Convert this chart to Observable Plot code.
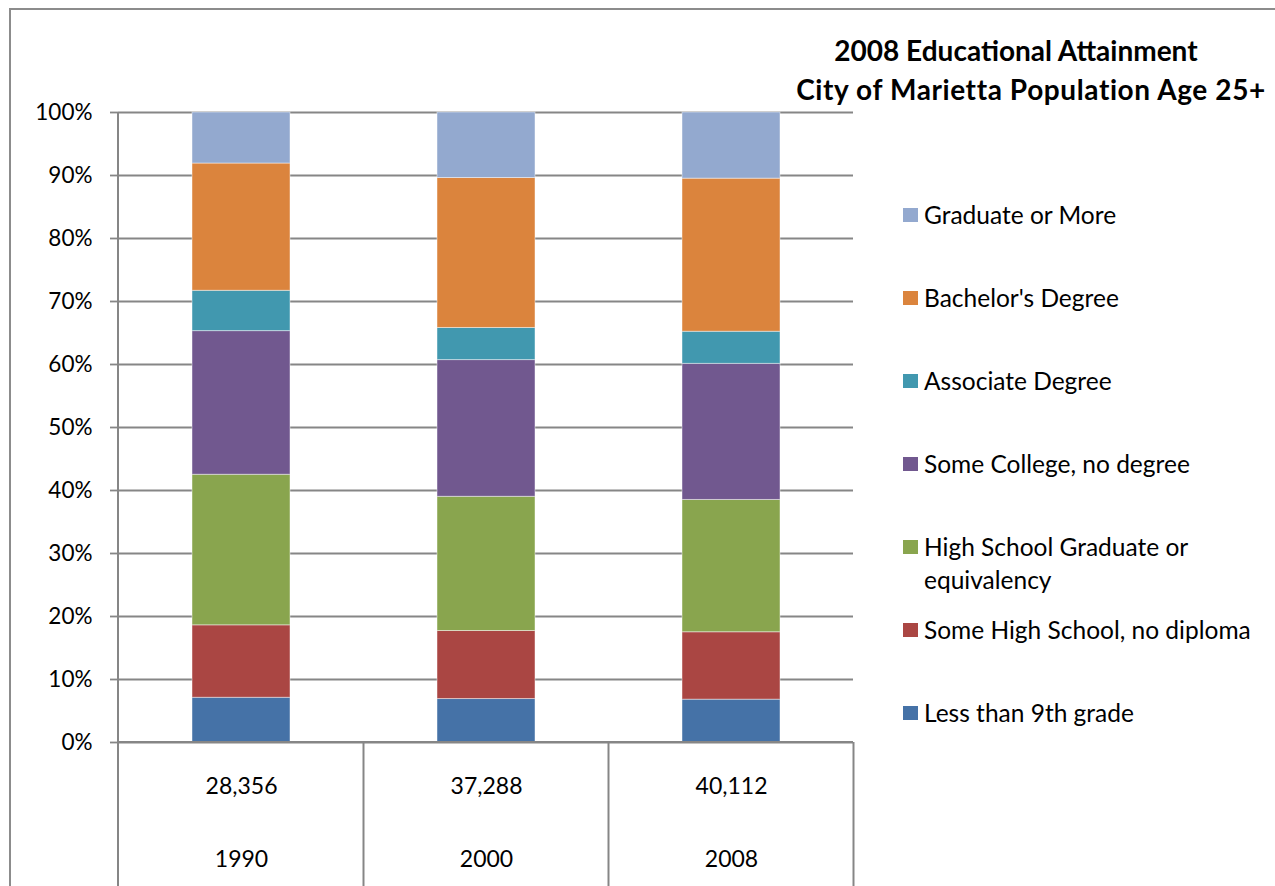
<!DOCTYPE html>
<html>
<head>
<meta charset="utf-8">
<script src="https://cdn.jsdelivr.net/npm/d3@7"></script>
<script src="https://cdn.jsdelivr.net/npm/@observablehq/plot@0.6"></script>
<style>
  html, body { margin: 0; padding: 0; background: #fff; }
  body { font-family: Lato, "Open Sans", "DejaVu Sans", sans-serif; color: #000; }
  #wrap { position: relative; width: 1275px; height: 886px; overflow: hidden; background: #fff; }
  #border { position: absolute; left: 9px; top: 8px; width: 1400px; height: 1000px;
            border-left: 2px solid #8c8c8c; border-top: 2px solid #8c8c8c; }
  #chart { position: absolute; left: 0; top: 0; }
  .title { position: absolute; width: 640px; text-align: center; font-weight: 700;
           font-size: 28px; line-height: 1.2; white-space: nowrap; }
  #legend { position: absolute; left: 903px; top: 198px; }
  .row { display: flex; align-items: flex-start; height: 83px; }
  .sw { width: 15px; height: 14px; margin-top: 10px; margin-right: 6px; flex: none; }
  .lab { font-size: 24.5px; line-height: 33px; width: 350px; }
</style>
</head>
<body>
<div id="wrap">
  <div id="border"></div>
  <div id="chart"></div>
  <div class="title" id="t1" style="left:696px; top:34px;"></div>
  <div class="title" id="t2" style="left:711px; top:73px; letter-spacing:0.6px;"></div>
  <div id="legend"></div>
</div>
<script>
// ---- data ----
const years = ["1990", "2000", "2008"];
const totals = ["28,356", "37,288", "40,112"];
const categories = [
  "Less than 9th grade",
  "Some High School, no diploma",
  "High School Graduate or equivalency",
  "Some College, no degree",
  "Associate Degree",
  "Bachelor's Degree",
  "Graduate or More"
];
const colors = ["#4572A7", "#AA4643", "#89A54E", "#71588F", "#4198AF", "#DB843D", "#93A9CF"];
const share1990 = [7.1, 11.5, 23.9, 22.8, 6.4, 20.2, 8.1];
const share2000 = [6.9, 10.8, 21.3, 21.7, 5.1, 23.8, 10.4];
const share2008 = [6.8, 10.7, 21.0, 21.6, 5.1, 24.3, 10.5];
const yTicks = [0, 10, 20, 30, 40, 50, 60, 70, 80, 90, 100];
const titleLines = ["2008 Educational Attainment", "City of Marietta Population Age 25+"];

// ---- table built from the arrays ----
const series = [share1990, share2000, share2008];
const rows = [];
years.forEach((yr, i) => categories.forEach((c, j) => rows.push({year: yr, category: c, value: series[i][j]})));

const gray = "#868686";

// lines of the bottom data table + axis line, derived from scales
function tableLines(index, scales, values, dims) {
  const x = scales.x, y = scales.y;
  const W = dims.width, ml = dims.marginLeft, mr = dims.marginRight;
  const bw = typeof x.bandwidth === "function" ? x.bandwidth() : 0;
  const step = typeof x.step === "function" ? x.step() : (W - ml - mr) / years.length;
  const y0 = y(0), yTop = y(100), H = dims.height;
  const g = d3.create("svg:g").attr("stroke", gray).attr("stroke-width", 2).attr("fill", "none");
  g.append("line").attr("x1", ml).attr("x2", ml).attr("y1", yTop).attr("y2", H);
  g.append("line").attr("x1", ml).attr("x2", W - mr).attr("y1", y0).attr("y2", y0);
  years.forEach(d => {
    const right = x(d) + bw / 2 + step / 2;
    g.append("line").attr("x1", right).attr("x2", right).attr("y1", y0).attr("y2", H);
  });
  return g.node();
}

const chart = Plot.plot({
  width: 1275,
  height: 886,
  marginLeft: 118,
  marginRight: 422,
  marginTop: 112,
  marginBottom: 144,
  style: {fontFamily: "Lato, 'Open Sans', sans-serif", fontSize: "22px", color: "#000", background: "transparent", overflow: "visible"},
  x: {domain: years, paddingInner: 0.6, paddingOuter: 0.3, label: null},
  y: {domain: [0, 100], label: null},
  color: {domain: categories, range: colors},
  marks: [
    Plot.gridY(yTicks, {stroke: gray, strokeOpacity: 1, strokeWidth: 1.8}),
    Plot.barY(rows, Plot.stackY({x: "year", y: "value", fill: "category", order: categories,
      stroke: "#ffffff", strokeOpacity: 0.45, strokeWidth: 1})),
    Plot.axisY(yTicks, {tickFormat: d => d + "%", tickSize: 8, tickPadding: 18, stroke: gray,
      strokeWidth: 1.8, strokeOpacity: 1, fontSize: 22.5, label: null}),
    Plot.axisX({tickSize: 0, tickPadding: 0, fontSize: 23, lineHeight: 3.17, label: null,
      tickFormat: d => totals[years.indexOf(d)] + "\n" + d}),
    tableLines
  ]
});
document.getElementById("chart").appendChild(chart);

document.getElementById("t1").textContent = titleLines[0];
document.getElementById("t2").textContent = titleLines[1];

const legend = document.getElementById("legend");
categories.slice().reverse().forEach(c => {
  const row = document.createElement("div");
  row.className = "row";
  const sw = document.createElement("div");
  sw.className = "sw";
  sw.style.background = colors[categories.indexOf(c)];
  const lab = document.createElement("div");
  lab.className = "lab";
  lab.textContent = c;
  row.appendChild(sw);
  row.appendChild(lab);
  legend.appendChild(row);
});
</script>
</body>
</html>
